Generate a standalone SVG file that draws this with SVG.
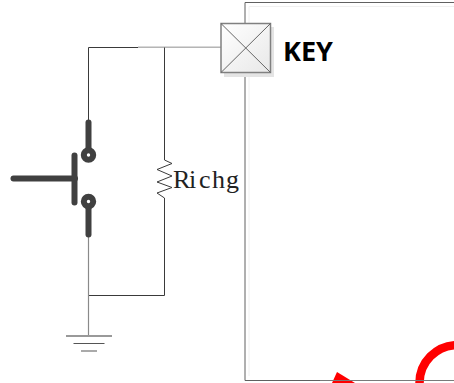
<svg xmlns="http://www.w3.org/2000/svg" width="454" height="383" viewBox="0 0 454 383">
<defs>
<linearGradient id="g" x1="0" y1="0" x2="1" y2="1"><stop offset="0" stop-color="#ffffff"/><stop offset="1" stop-color="#e8e8e8"/></linearGradient>
</defs>
<style>
.w{fill:none;stroke:#3a3a3a;stroke-width:1}
.b{fill:none;stroke:#404040;stroke-width:6;stroke-linecap:round}
</style>
<rect width="454" height="383" fill="#fff"/>
<g id="chip">
<path d="M454 2.500H245V380.500H454" fill="none" stroke="#606060" stroke-width="1"/>
<path d="M454 6.500H249V376" fill="none" stroke="#f0f0f0" stroke-width="1"/>
</g>
<g id="connectors">
<path class="w" d="M88.500 122V47.500H138"/>
<path d="M138 47.500H221" fill="none" stroke="#b5b5b5" stroke-width="1"/>
<path d="M138 46.500H221" fill="none" stroke="#d8d8d8" stroke-width="1"/>
<path class="w" d="M164.500 47.500V160"/>
<path class="w" d="M164.500 198V295.500H88.500"/>
<path d="M88.500 235V335" fill="none" stroke="#8a8a8a" stroke-width="1.200"/>
</g>
<g id="key-pin">
<rect x="224" y="27" width="50" height="50" fill="#e4e4e4"/>
<rect x="221" y="23.500" width="49.500" height="49" fill="url(#g)" stroke="#808080" stroke-width="1.500"/>
<path d="M221 23.500L270.500 72.500M270.500 23.500L221 72.500" stroke="#666" stroke-width="1" fill="none"/>
<text x="283" y="61" font-family="'Open Sans','Noto Sans',sans-serif" font-weight="700" font-size="27" textLength="50" lengthAdjust="spacingAndGlyphs" fill="#000">KEY</text>
</g>
<g id="switch">
<path class="b" d="M88.500 122.500V155"/>
<circle cx="88.500" cy="155" r="4.700" fill="#fff" stroke="#404040" stroke-width="6"/>
<path class="b" d="M88.500 202V234.500"/>
<circle cx="88.500" cy="201.500" r="4.700" fill="#fff" stroke="#404040" stroke-width="6"/>
<path class="b" d="M74.500 155.500V202.500"/>
<path class="b" d="M13.500 178.500H75"/>
</g>
<g id="resistor">
<path class="w" d="M164.500 160L172 163.500L157 169.500L172 176L157 182L172 187.500L157 193L164.500 198"/>
<text y="188" font-family="'Liberation Serif','DejaVu Serif',serif" font-size="26" fill="#222" x="173 189 199 212 226">Richg</text>
</g>
<g id="ground">
<path d="M66 336H112" stroke="#999" stroke-width="2" fill="none"/>
<path d="M73.500 343.500H104.500" stroke="#555" stroke-width="1" fill="none"/>
<path d="M81 351H97" stroke="#aaa" stroke-width="2" fill="none"/>
</g>
<g id="red-marks">
<path d="M332 383L337 372L355 383Z" fill="#ff0000"/>
<path d="M419.500 383A38 38 0 0 1 457 345" fill="none" stroke="#ff0000" stroke-width="8.500"/>
<path d="M320 380.500H454" stroke="#7a7a7a" stroke-width="1" fill="none"/>
</g>
</svg>
